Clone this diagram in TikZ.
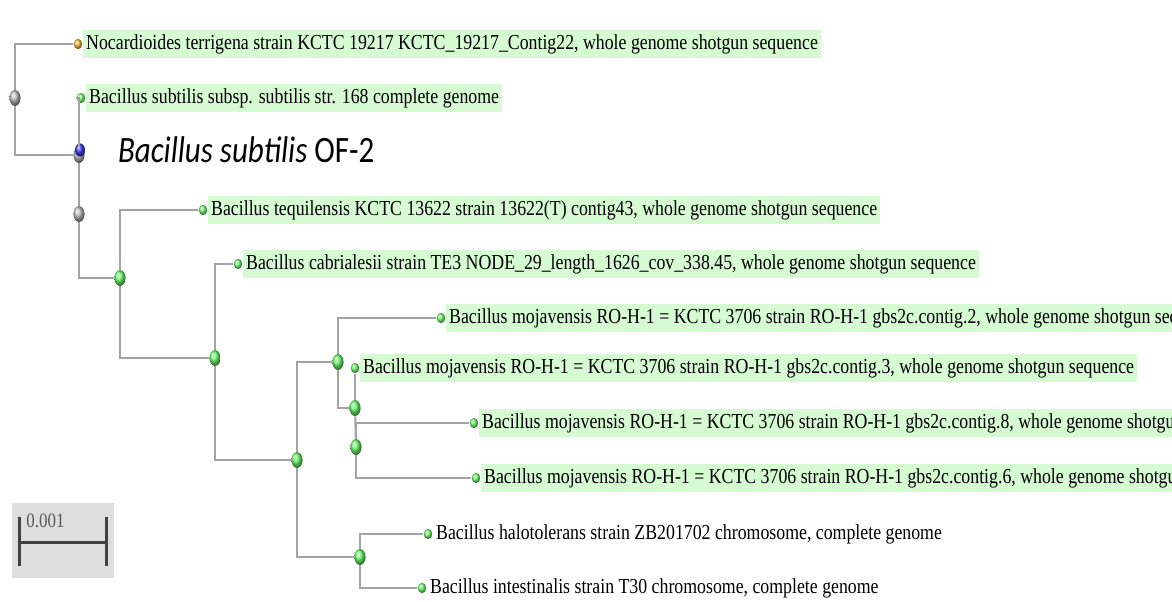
\documentclass[tikz,border=0pt]{standalone}
\usepackage{fontspec}
\setmainfont{Liberation Serif}
\newfontfamily\calibri{Carlito}
\usepackage{xcolor}
\definecolor{hlgreen}{HTML}{D6FAD2}
\definecolor{branchgray}{HTML}{A4A4A4}
\definecolor{ballgreen}{HTML}{70FF70}
\definecolor{ballgray}{HTML}{C0C0C0}
\definecolor{ballblue}{HTML}{3A3AF8}
\definecolor{ballgold}{HTML}{F0C040}
\definecolor{scalebg}{HTML}{DEDEDE}
\usepackage{tikz}
\usetikzlibrary{positioning,shapes.geometric}

\begin{document}
\begin{tikzpicture}[
  x=0.5pt,y=-0.5pt,
  branch/.style={draw=branchgray,line width=1pt},
  knot/.style={ellipse,shade,ball color=#1,minimum width=5.6pt,minimum height=8pt,inner sep=0pt},
  tip/.style={ellipse,shade,ball color=#1,minimum width=4.2pt,minimum height=5.2pt,inner sep=0pt},
  lab/.style={right=0pt of #1.east,font=\fontsize{8.9}{10}\selectfont,inner xsep=1.6pt,inner ysep=0pt,minimum height=11.7pt,yscale=1.2},
  hl/.style={lab=#1,fill=hlgreen},
  scalebar/.style={draw=black!75,line width=1.5pt},
]
\useasboundingbox (0,0) rectangle (1172,601);
\clip (0,0) rectangle (1172,601);
\fill[white] (0,0) rectangle (1172,601);

\node[knot=ballgray] (r) at (15,98) {};
\node[tip=ballgold] (l1) at (78,44) {};
\node[knot=ballgray] (n1) at (79,155) {};
\node[tip=ballgreen] (l2) at (81,98) {};
\node[knot=ballblue,minimum width=5pt,minimum height=6.6pt] (l3) at (80,150) {};
\node[knot=ballgray] (n2) at (79,214) {};
\node[knot=ballgreen] (n3) at (120,278) {};
\node[tip=ballgreen] (l4) at (203,210) {};
\node[knot=ballgreen] (n4) at (215,358) {};
\node[tip=ballgreen] (l5) at (238,264) {};
\node[knot=ballgreen] (n5) at (297,460) {};
\node[knot=ballgreen] (n6) at (338,362) {};
\node[tip=ballgreen] (l6) at (441,318) {};
\node[knot=ballgreen] (n8) at (355,408) {};
\node[tip=ballgreen] (l7) at (355,368) {};
\node[knot=ballgreen] (n9) at (356,447) {};
\node[tip=ballgreen] (l8) at (474,423) {};
\node[tip=ballgreen] (l9) at (476,478) {};
\node[knot=ballgreen] (n7) at (360,557) {};
\node[tip=ballgreen] (l10) at (428,534) {};
\node[tip=ballgreen] (l11) at (422,588) {};

\draw[branch] (r) |- (l1);
\draw[branch] (r) |- (n1);
\draw[branch] (n1) |- (l2);
\draw[branch] (n1) -- (n2);
\draw[branch] (n2) |- (n3);
\draw[branch] (n3) |- (l4);
\draw[branch] (n3) |- (n4);
\draw[branch] (n4) |- (l5);
\draw[branch] (n4) |- (n5);
\draw[branch] (n5) |- (n6);
\draw[branch] (n5) |- (n7);
\draw[branch] (n6) |- (l6);
\draw[branch] (n6) |- (n8);
\draw[branch] (n8) -- (l7);
\draw[branch] (n8) -- (n9);
\draw[branch] (n9) |- (l8);
\draw[branch] (n9) |- (l9);
\draw[branch] (n7) |- (l10);
\draw[branch] (n7) |- (l11);

\node[hl=l1] (t1) {Nocardioides terrigena strain KCTC 19217 KCTC\_19217\_Contig22, whole genome shotgun sequence};
\node[hl=l2] (t2) {Bacillus subtilis subsp. subtilis str. 168 complete genome};
\node[lab=l3,xshift=14.5pt,font=\calibri\fontsize{15.5}{18}\selectfont] (t3) {\textit{Bacillus subtilis} OF-2};
\node[hl=l4] (t4) {Bacillus tequilensis KCTC 13622 strain 13622(T) contig43, whole genome shotgun sequence};
\node[hl=l5] (t5) {Bacillus cabrialesii strain TE3 NODE\_29\_length\_1626\_cov\_338.45, whole genome shotgun sequence};
\node[hl=l6] (t6) {Bacillus mojavensis RO-H-1 = KCTC 3706 strain RO-H-1 gbs2c.contig.2, whole genome shotgun sequence};
\node[hl=l7] (t7) {Bacillus mojavensis RO-H-1 = KCTC 3706 strain RO-H-1 gbs2c.contig.3, whole genome shotgun sequence};
\node[hl=l8] (t8) {Bacillus mojavensis RO-H-1 = KCTC 3706 strain RO-H-1 gbs2c.contig.8, whole genome shotgun sequence};
\node[hl=l9] (t9) {Bacillus mojavensis RO-H-1 = KCTC 3706 strain RO-H-1 gbs2c.contig.6, whole genome shotgun sequence};
\node[lab=l10] (t10) {Bacillus halotolerans strain ZB201702 chromosome, complete genome};
\node[lab=l11] (t11) {Bacillus intestinalis strain T30 chromosome, complete genome};

\node[fill=scalebg,minimum width=51pt,minimum height=37.5pt,inner sep=0pt,anchor=north west] (sbox) at (12,503) {};
\coordinate (sbl) at (19,542);
\coordinate (sbr) at (106,542);
\draw[scalebar] (sbl) ++(0,-25) -- ++(0,49);
\draw[scalebar] (sbr) ++(0,-25) -- ++(0,49);
\draw[scalebar] (sbl) -- (sbr);
\node[font=\fontsize{8.5}{9}\selectfont,text=black!65,yscale=1.2,anchor=west,inner sep=0pt] (sbt) at (26,521) {0.001};
\end{tikzpicture}
\end{document}
